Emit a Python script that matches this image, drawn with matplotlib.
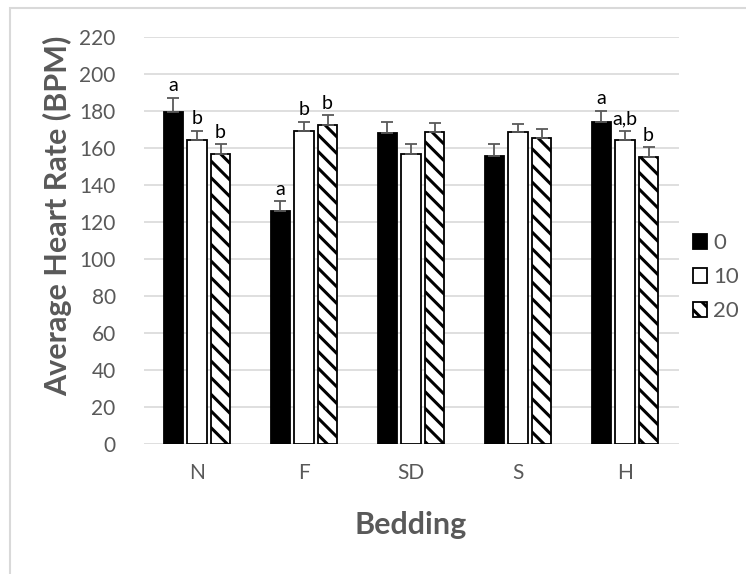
import matplotlib
matplotlib.use('Agg')
import matplotlib.pyplot as plt
import matplotlib.patches as mpatches
import numpy as np

plt.rcParams['font.family'] = ['Lato', 'DejaVu Sans']
plt.rcParams['hatch.linewidth'] = 2.2

# data
categories = ['N', 'F', 'SD', 'S', 'H']
series = ['0', '10', '20']
means_0 = [179.7, 125.7, 168.3, 155.6, 174.2]
means_10 = [164.3, 169.2, 157.0, 168.5, 164.5]
means_20 = [157.0, 172.7, 168.8, 165.4, 155.2]
err_0 = [7.5, 5.5, 6.0, 6.6, 6.0]
err_10 = [5.0, 5.0, 5.0, 4.6, 4.5]
err_20 = [5.0, 5.0, 4.6, 5.0, 5.2]
letters_0 = ['a', 'a', '', '', 'a']
letters_10 = ['b', 'b', '', '', 'a,b']
letters_20 = ['b', 'b', '', '', 'b']

gray = '#595959'
fig = plt.figure(figsize=(7.46, 5.74), dpi=100)
ax = fig.add_axes([143.5 / 746, 130 / 574, 535 / 746, 407 / 574])

# outer chart frame
fig.patches.append(mpatches.Rectangle((10 / 746, -0.05), 1.1, 1 - 8 / 574 + 0.05,
                                      transform=fig.transFigure, fill=False,
                                      edgecolor='#d9d9d9', linewidth=1.5))

x = np.arange(len(categories))
w = 0.178
pitch = 0.22
styles = [dict(color='black', edgecolor='black'),
          dict(color='white', edgecolor='black'),
          dict(color='white', edgecolor='black', hatch='\\\\')]
all_means = [means_0, means_10, means_20]
all_errs = [err_0, err_10, err_20]
all_letters = [letters_0, letters_10, letters_20]

for i, (m, e, lt, st) in enumerate(zip(all_means, all_errs, all_letters, styles)):
    pos = x + (i - 1) * pitch
    ax.bar(pos, m, width=w, linewidth=1.3, zorder=3, label=series[i], **st)
    ax.errorbar(pos, m, yerr=[np.zeros(len(e)), e], fmt='none', ecolor=gray,
                elinewidth=1.3, capsize=4.5, capthick=1.3, zorder=4)
    for p, v, ee, t in zip(pos, m, e, lt):
        if t:
            ax.text(p, v + ee + 2, t, ha='center', va='bottom', fontsize=14,
                    color='black')

ax.set_xlim(-0.5, len(categories) - 0.5)
ax.set_ylim(0, 220)
ax.set_yticks(np.arange(0, 221, 20))
ax.set_xticks(x)
ax.set_xticklabels(categories)
ax.tick_params(axis='both', length=0, colors=gray, labelsize=15)
ax.tick_params(axis='y', pad=20)
ax.tick_params(axis='x', pad=14)
ax.grid(axis='y', color='#d9d9d9', linewidth=1.2, zorder=0)
for s in ax.spines.values():
    s.set_visible(False)

ax.set_ylabel('Average Heart Rate (BPM)', fontsize=22, fontweight='bold',
              color=gray)
ax.yaxis.set_label_coords(-0.134, 0.56)
ax.set_xlabel('Bedding', fontsize=22, fontweight='bold', color=gray, labelpad=20)

ax.legend(loc='center left', bbox_to_anchor=(1.027, 0.41), frameon=False,
          fontsize=16, labelcolor=gray, handlelength=0.65, handleheight=0.65,
          handletextpad=0.25, labelspacing=0.62, borderaxespad=0, borderpad=0)

fig.savefig('out.png', dpi=100)
